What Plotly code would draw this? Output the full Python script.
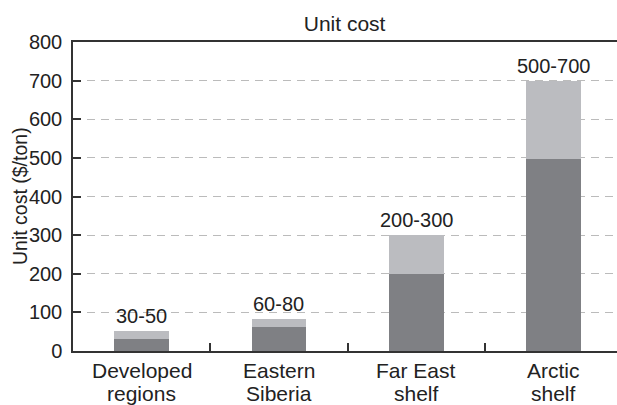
import plotly.graph_objects as go

categories = ["Developed regions", "Eastern Siberia", "Far East shelf", "Arctic shelf"]
label_line1 = ["Developed", "Eastern", "Far East", "Arctic"]
label_line2 = ["regions", "Siberia", "shelf", "shelf"]
low_values = [30, 61, 200, 497]
high_values = [53, 84, 300, 700]
range_labels = ["30-50", "60-80", "200-300", "500-700"]
y_ticks = [0, 100, 200, 300, 400, 500, 600, 700, 800]

upper_part = [h - l for h, l in zip(high_values, low_values)]

FONT = "Liberation Sans, Arial, Helvetica, sans-serif"
TXT = "#222222"
W, H = 617, 405
L, R, T, B = 73, 0, 42, 54

fig = go.Figure()
fig.add_trace(go.Bar(x=categories, y=low_values, marker=dict(color="#7f8084", line=dict(width=0)),
                     width=0.4, hoverinfo="skip"))
fig.add_trace(go.Bar(x=categories, y=upper_part, marker=dict(color="#bbbcc0", line=dict(width=0)),
                     width=0.4, hoverinfo="skip"))

for c, h, lab in zip(categories, high_values, range_labels):
    fig.add_annotation(x=c, y=h, text=lab, showarrow=False, yanchor="bottom",
                       yshift=2, font=dict(family=FONT, size=20, color=TXT))

for c, l1, l2 in zip(categories, label_line1, label_line2):
    fig.add_annotation(x=c, y=0, yref="y", text=l1, showarrow=False, yanchor="middle",
                       yshift=-19, font=dict(family=FONT, size=21, color=TXT))
    fig.add_annotation(x=c, y=0, yref="y", text=l2, showarrow=False, yanchor="middle",
                       yshift=-42, font=dict(family=FONT, size=21, color=TXT))

fig.add_annotation(xref="paper", yref="paper", x=(19.5 - L) / (W - L - R), y=0.5,
                   text="Unit cost ($/ton)", textangle=-90, showarrow=False,
                   xanchor="center", yanchor="middle",
                   font=dict(family=FONT, size=19.5, color=TXT))

fig.update_layout(
    width=W, height=H,
    barmode="stack",
    showlegend=False,
    paper_bgcolor="white", plot_bgcolor="white",
    margin=dict(l=L, r=R, t=T, b=B, autoexpand=False),
    font=dict(family=FONT, size=20, color=TXT),
    title=dict(text="Unit cost", x=344.6 / W, xanchor="center", y=1 - 24 / H, yanchor="middle",
               font=dict(family=FONT, size=21, color=TXT)),
)

fig.update_xaxes(
    type="category",
    range=[-0.5, 3.462],
    automargin=False,
    showline=True, linecolor="#333333", linewidth=1.5, mirror=True,
    ticks="inside", tickson="boundaries", ticklen=8, tickcolor="#333333", tickwidth=1.5,
    showgrid=False,
    showticklabels=False,
)
fig.update_yaxes(
    range=[0, 800], tickvals=y_ticks,
    automargin=False,
    showline=True, linecolor="#333333", linewidth=1.5,
    ticks="inside", ticklen=8, tickcolor="#333333", tickwidth=1.5,
    showgrid=True, gridcolor="#bbbbbb", gridwidth=1, griddash="8px,6px",
    zeroline=False,
    tickfont=dict(family=FONT, size=20, color=TXT),
    ticklabelstandoff=5,
)

fig.write_html("out.html", config={"displayModeBar": False},
               post_script="document.body.style.margin='0';document.body.style.overflow='hidden';")
